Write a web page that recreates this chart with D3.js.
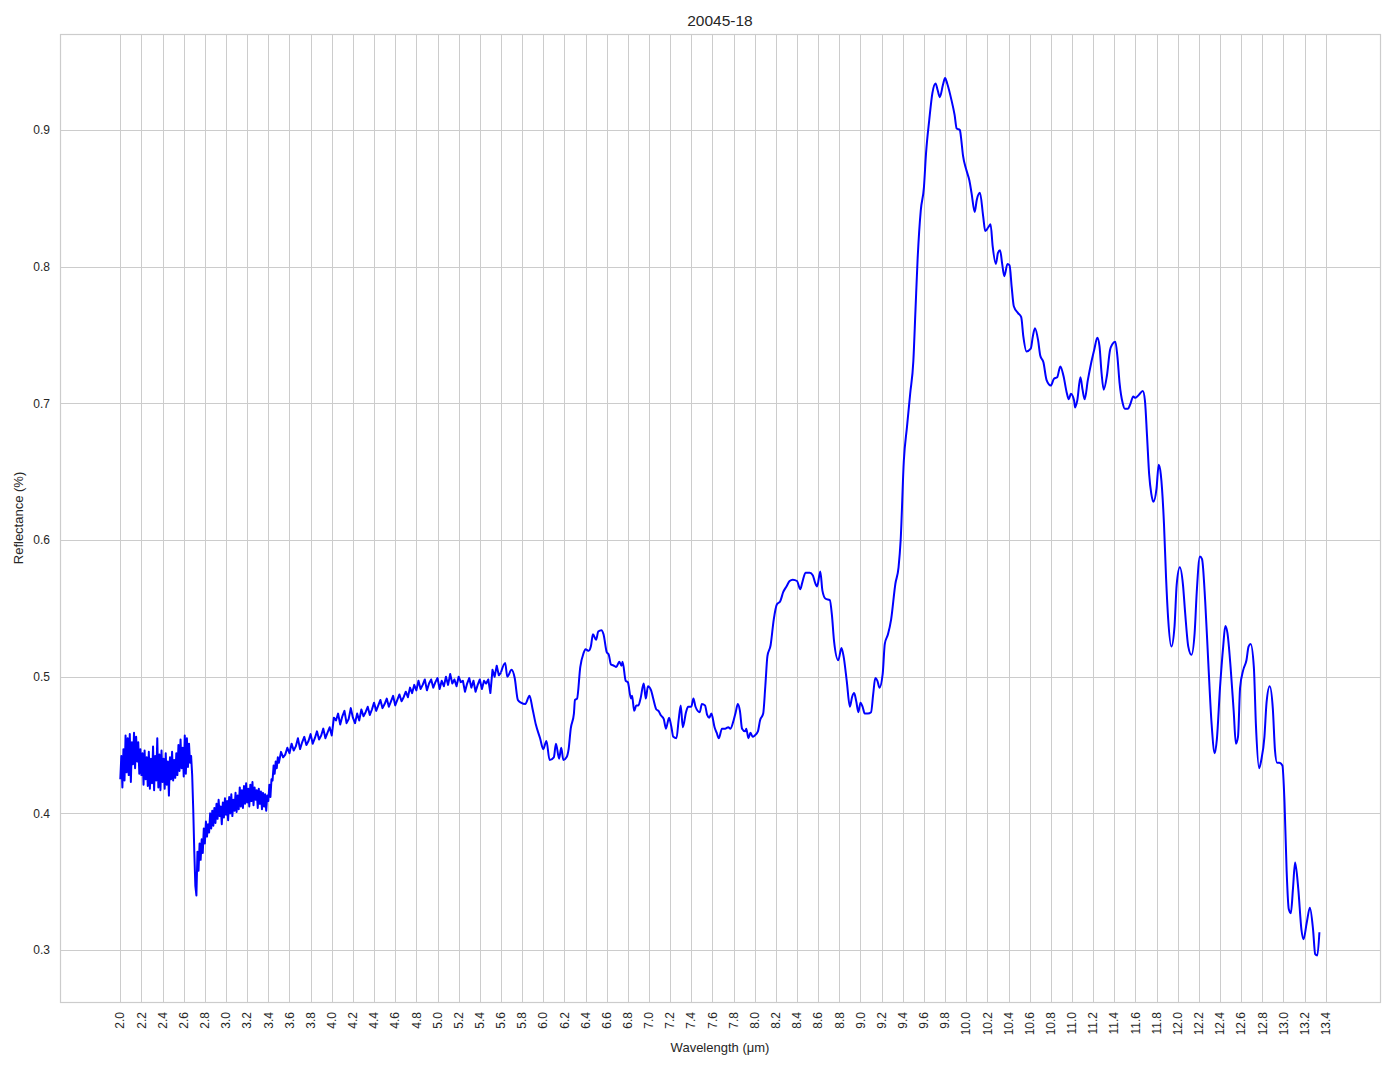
<!DOCTYPE html>
<html><head><meta charset="utf-8">
<script src="https://cdn.jsdelivr.net/npm/d3@7"></script>
<style>
body{margin:0;background:#fff}
text{font-family:"Liberation Sans",Arial,Helvetica,sans-serif;fill:#262626}
</style>
</head><body>
<svg id="chart" width="1394" height="1069"></svg>
<script>
const chartTitle = "20045-18";
const xLabel = "Wavelength (μm)";
const yLabel = "Reflectance (%)";

const xTicks = [2.0,2.2,2.4,2.6,2.8,3.0,3.2,3.4,3.6,3.8,4.0,4.2,4.4,4.6,4.8,5.0,5.2,5.4,5.6,5.8,
  6.0,6.2,6.4,6.6,6.8,7.0,7.2,7.4,7.6,7.8,8.0,8.2,8.4,8.6,8.8,9.0,9.2,9.4,9.6,9.8,
  10.0,10.2,10.4,10.6,10.8,11.0,11.2,11.4,11.6,11.8,12.0,12.2,12.4,12.6,12.8,13.0,13.2,13.4];
const yTicks = [0.3,0.4,0.5,0.6,0.7,0.8,0.9];

// noisy part, sampled every 0.01 µm from 2.00
const noisyStart = 2.00, noisyStep = 0.01;
const noisyValues = [
 0.425,0.442,0.419,0.447,0.424,0.457,0.430,0.455,0.428,0.458,
 0.423,0.452,0.436,0.459,0.433,0.456,0.438,0.452,0.429,0.447,
 0.428,0.444,0.421,0.446,0.425,0.441,0.420,0.445,0.418,0.440,
 0.422,0.449,0.417,0.442,0.424,0.455,0.419,0.443,0.417,0.446,
 0.423,0.440,0.418,0.444,0.421,0.438,0.413,0.441,0.425,0.445,
 0.424,0.439,0.426,0.444,0.428,0.450,0.431,0.454,0.433,0.448,
 0.427,0.457,0.429,0.455,0.434,0.451,0.437,0.442,0.428,0.403,
 0.372,0.347,0.340,0.372,0.358,0.378,0.366,0.381,0.371,0.389,
 0.378,0.394,0.383,0.392,0.386,0.400,0.389,0.402,0.391,0.404,
 0.393,0.407,0.396,0.410,0.398,0.405,0.392,0.408,0.397,0.411,
 0.399,0.409,0.395,0.412,0.400,0.414,0.398,0.410,0.402,0.415,
 0.401,0.413,0.403,0.419,0.405,0.417,0.404,0.420,0.407,0.422,
 0.408,0.418,0.405,0.421,0.409,0.423,0.406,0.419,0.410,0.417,
 0.404,0.418,0.407,0.416,0.403,0.415,0.405,0.414,0.402,0.413,
 0.409,0.421,0.412,0.425,0.424,0.435,0.429,0.438,0.433,0.441
];

// mid part, sampled every 0.02 µm from 3.50
const midStart = 3.50, midStep = 0.02;
const midValues = [
 0.437,0.445,0.441,0.443,0.448,0.444,0.451,0.446,0.449,0.455,
 0.447,0.452,0.456,0.450,0.453,0.458,0.451,0.455,0.460,0.454,
 0.457,0.462,0.455,0.459,0.463,0.457,0.470,0.468,0.473,0.465,
 0.471,0.475,0.466,0.469,0.477,0.470,0.466,0.473,0.468,0.476,
 0.471,0.474,0.478,0.472,0.476,0.481,0.475,0.479,0.483,0.477,
 0.480,0.484,0.478,0.482,0.486,0.479,0.483,0.487,0.482,0.485,
 0.489,0.485,0.492,0.488,0.494,0.490,0.497,0.491,0.494,0.498,
 0.490,0.495,0.498,0.492,0.496,0.499,0.491,0.497,0.493,0.500,
 0.494,0.502,0.495,0.498,0.493,0.500,0.496,0.497,0.489,0.495,
 0.499,0.492,0.497,0.489,0.494,0.498,0.491,0.497,0.495,0.498,
 0.488,0.505,0.500,0.508,0.501
];

// smooth part
const smoothWavelengths = [
 5.60,5.64,5.66,5.70,5.73,5.76,5.79,5.83,5.87,5.90,5.93,5.97,6.00,6.03,6.06,6.10,6.12,6.15,6.17,6.19,
 6.22,6.24,6.26,6.29,6.30,6.32,6.35,6.38,6.40,6.43,6.45,6.47,6.50,6.52,6.55,6.57,6.60,6.62,6.64,6.67,
 6.69,6.72,6.74,6.75,6.78,6.80,6.83,6.84,6.86,6.88,6.90,6.92,6.95,6.97,6.99,7.02,7.04,7.07,7.09,7.11,
 7.14,7.16,7.19,7.21,7.23,7.26,7.28,7.30,7.32,7.35,7.37,7.40,7.42,7.44,7.48,7.50,7.53,7.55,7.57,7.59,
 7.62,7.64,7.66,7.69,7.72,7.75,7.77,7.80,7.82,7.84,7.86,7.88,7.91,7.92,7.94,7.96,7.98,8.00,8.03,8.05,
 8.08,8.10,8.12,8.15,8.18,8.21,8.24,8.27,8.30,8.33,8.36,8.40,8.43,8.45,8.48,8.52,8.55,8.57,8.59,8.62,
 8.64,8.67,8.71,8.73,8.75,8.79,8.82,8.84,8.87,8.90,8.92,8.94,8.96,8.98,9.00,9.02,9.04,9.07,9.10,9.12,
 9.14,9.16,9.18,9.21,9.23,9.26,9.29,9.33,9.36,9.38,9.41,9.44,9.47,9.50,9.52,9.54,9.57,9.60,9.62,9.65,
 9.68,9.71,9.73,9.75,9.78,9.80,9.82,9.86,9.89,9.91,9.94,9.95,9.97,10.00,10.03,10.05,10.08,10.10,10.13,10.16,
 10.18,10.21,10.23,10.25,10.28,10.30,10.32,10.34,10.36,10.39,10.41,10.43,10.45,10.49,10.52,10.54,10.57,10.61,10.63,10.65,
 10.68,10.70,10.73,10.76,10.80,10.83,10.86,10.89,10.92,10.95,10.97,10.99,11.02,11.03,11.05,11.08,11.10,11.12,11.15,11.18,
 11.21,11.24,11.26,11.28,11.30,11.33,11.36,11.38,11.41,11.43,11.45,11.48,11.50,11.53,11.55,11.58,11.60,11.63,11.67,11.69,
 11.71,11.73,11.75,11.77,11.80,11.82,11.84,11.87,11.89,11.91,11.94,11.97,11.99,12.02,12.05,12.07,12.10,12.13,12.16,12.18,
 12.21,12.23,12.26,12.29,12.32,12.35,12.37,12.40,12.43,12.45,12.47,12.50,12.53,12.55,12.57,12.59,12.62,12.65,12.67,12.69,
 12.72,12.74,12.77,12.79,12.82,12.84,12.87,12.90,12.92,12.94,12.96,12.99,13.01,13.03,13.05,13.07,13.09,13.11,13.14,13.17,
 13.19,13.22,13.25,13.28,13.30,13.32,13.34
];
const smoothValues = [
 0.503,0.510,0.500,0.505,0.499,0.483,0.481,0.480,0.486,0.476,0.465,0.455,0.447,0.453,0.439,0.441,0.451,0.440,0.448,0.439,
 0.441,0.447,0.462,0.473,0.483,0.484,0.507,0.517,0.520,0.519,0.522,0.531,0.527,0.533,0.534,0.531,0.518,0.516,0.509,0.508,
 0.507,0.511,0.508,0.511,0.497,0.496,0.484,0.486,0.475,0.479,0.479,0.484,0.495,0.484,0.493,0.490,0.484,0.476,0.475,0.472,
 0.469,0.462,0.470,0.464,0.456,0.455,0.468,0.479,0.463,0.474,0.478,0.478,0.484,0.478,0.474,0.480,0.479,0.472,0.470,0.473,
 0.463,0.459,0.455,0.462,0.462,0.463,0.462,0.468,0.474,0.480,0.475,0.462,0.460,0.462,0.455,0.459,0.456,0.457,0.460,0.468,
 0.473,0.493,0.515,0.523,0.542,0.553,0.555,0.562,0.566,0.570,0.571,0.570,0.564,0.569,0.576,0.576,0.574,0.569,0.566,0.577,
 0.563,0.557,0.556,0.545,0.526,0.512,0.521,0.515,0.497,0.478,0.485,0.488,0.482,0.474,0.481,0.478,0.473,0.473,0.474,0.487,
 0.499,0.497,0.492,0.502,0.524,0.531,0.542,0.568,0.580,0.600,0.658,0.683,0.707,0.731,0.768,0.805,0.841,0.858,0.883,0.907,
 0.927,0.934,0.929,0.924,0.933,0.938,0.934,0.922,0.911,0.901,0.900,0.895,0.881,0.871,0.863,0.854,0.840,0.849,0.854,0.837,
 0.826,0.829,0.831,0.815,0.802,0.810,0.812,0.802,0.793,0.802,0.801,0.785,0.771,0.766,0.763,0.749,0.738,0.740,0.749,0.755,
 0.746,0.735,0.730,0.717,0.713,0.718,0.719,0.727,0.720,0.708,0.703,0.707,0.702,0.697,0.702,0.719,0.710,0.703,0.717,0.729,
 0.739,0.748,0.742,0.722,0.710,0.720,0.739,0.743,0.745,0.734,0.715,0.700,0.696,0.696,0.699,0.705,0.704,0.706,0.709,0.702,
 0.676,0.648,0.634,0.628,0.638,0.655,0.648,0.612,0.572,0.542,0.522,0.537,0.567,0.580,0.567,0.547,0.522,0.516,0.532,0.562,
 0.588,0.586,0.555,0.509,0.466,0.444,0.454,0.492,0.522,0.537,0.532,0.507,0.474,0.451,0.456,0.492,0.505,0.512,0.522,0.524,
 0.507,0.464,0.433,0.439,0.456,0.481,0.493,0.476,0.446,0.437,0.437,0.435,0.408,0.358,0.330,0.327,0.345,0.364,0.345,0.315,
 0.308,0.320,0.331,0.315,0.297,0.296,0.313
];

const svg = d3.select("#chart");
const plot = {left: 60, right: 1380, top: 34, bottom: 1002};

const x = d3.scaleLinear().domain([1.43, 13.913]).range([plot.left, plot.right]);
const y = d3.scaleLinear().domain([0.262, 0.9702]).range([plot.bottom, plot.top]);

const gridColor = "#cccccc";
const gx = svg.append("g");
gx.selectAll("line.xg").data(xTicks).join("line")
  .attr("x1", d => Math.round(x(d)) + 0.5).attr("x2", d => Math.round(x(d)) + 0.5)
  .attr("y1", plot.top).attr("y2", plot.bottom)
  .attr("stroke", gridColor).attr("stroke-width", 1);
gx.selectAll("line.yg").data(yTicks).join("line")
  .attr("y1", d => Math.round(y(d)) + 0.5).attr("y2", d => Math.round(y(d)) + 0.5)
  .attr("x1", plot.left).attr("x2", plot.right)
  .attr("stroke", gridColor).attr("stroke-width", 1);

svg.append("rect").attr("x", plot.left + 0.5).attr("y", plot.top + 0.5)
  .attr("width", plot.right - plot.left).attr("height", plot.bottom - plot.top)
  .attr("fill", "none").attr("stroke", gridColor).attr("stroke-width", 1.2);

svg.append("g").selectAll("text").data(yTicks).join("text")
  .attr("x", plot.left - 10).attr("y", d => y(d)).attr("dy", "0.35em")
  .attr("text-anchor", "end").attr("font-size", 12).text(d => d.toFixed(1));
svg.append("g").selectAll("text").data(xTicks).join("text")
  .attr("transform", d => `translate(${x(d)},${plot.bottom + 10}) rotate(-90)`)
  .attr("dy", "0.35em").attr("text-anchor", "end").attr("font-size", 12)
  .text(d => d.toFixed(1));

svg.append("text").attr("x", (plot.left + plot.right) / 2).attr("y", 26)
  .attr("text-anchor", "middle").attr("font-size", 15.5).text(chartTitle);
svg.append("text").attr("x", (plot.left + plot.right) / 2).attr("y", 1052)
  .attr("text-anchor", "middle").attr("font-size", 13).text(xLabel);
svg.append("text").attr("transform", `translate(23,${(plot.top + plot.bottom) / 2}) rotate(-90)`)
  .attr("text-anchor", "middle").attr("font-size", 13).text(yLabel);

const noisyPts = noisyValues.map((v, i) => [noisyStart + i * noisyStep, v]);
const midPts = midValues.map((v, i) => [midStart + i * midStep, v]);
const smoothPts = smoothValues.map((v, i) => [smoothWavelengths[i], v]);

const lineLinear = d3.line().x(d => x(d[0])).y(d => y(d[1]));
const lineSmooth = d3.line().x(d => x(d[0])).y(d => y(d[1])).curve(d3.curveMonotoneX);

svg.append("path").datum(noisyPts.concat(midPts, [smoothPts[0]]))
  .attr("d", lineLinear).attr("fill", "none").attr("stroke", "#0000ff")
  .attr("stroke-width", 2).attr("stroke-linejoin", "round");
svg.append("path").datum(smoothPts)
  .attr("d", lineSmooth).attr("fill", "none").attr("stroke", "#0000ff")
  .attr("stroke-width", 2).attr("stroke-linejoin", "round");
</script>
</body></html>
